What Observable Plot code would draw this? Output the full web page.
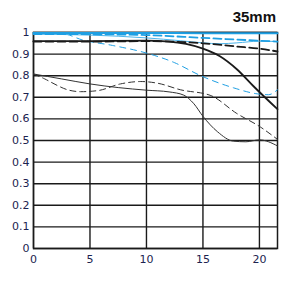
<!DOCTYPE html>
<html>
<head>
<meta charset="utf-8">
<script src="https://cdn.jsdelivr.net/npm/d3@7"></script>
<script src="https://cdn.jsdelivr.net/npm/@observablehq/plot@0.6"></script>
<style>
  body { margin: 0; background: #fff; width: 290px; height: 286px; overflow: hidden; position: relative; }
  #title { position: absolute; left: 0; top: 8px; width: 276px; text-align: right;
           font: bold 15px "Liberation Sans", Arial, sans-serif; color: #111; }
</style>
</head>
<body>
<div id="title">35mm</div>
<div id="chart"></div>
<script>
const title = "35mm";
const xTicks = [0, 5, 10, 15, 20];
const yTicks = [0, 0.1, 0.2, 0.3, 0.4, 0.5, 0.6, 0.7, 0.8, 0.9, 1];

// Black (wide open) — 10 lp/mm sagittal (thick solid)
const bk10sX = [0, 5, 10, 12, 13.5, 15, 16.5, 18, 19.5, 21.6];
const bk10sY = [0.96, 0.96, 0.962, 0.958, 0.947, 0.925, 0.89, 0.83, 0.75, 0.645];
// 10 lp/mm meridional (thick dashed)
const bk10mX = [0, 5, 10, 15, 18, 20, 21.6];
const bk10mY = [0.958, 0.958, 0.96, 0.95, 0.935, 0.925, 0.912];
// 30 lp/mm sagittal (thin solid)
const bk30sX = [0, 2.5, 5, 7.5, 10, 12, 13.3, 14.2, 15, 16.3, 17.7, 18.8, 20, 21.6];
const bk30sY = [0.808, 0.785, 0.762, 0.745, 0.733, 0.725, 0.71, 0.67, 0.612, 0.54, 0.497, 0.494, 0.503, 0.475];
// 30 lp/mm meridional (thin dashed)
const bk30mX = [0, 1, 2.1, 3, 4.2, 5.7, 7.7, 9.5, 11, 13, 15.7, 18, 20.1, 21.6];
const bk30mY = [0.808, 0.785, 0.755, 0.735, 0.726, 0.731, 0.762, 0.773, 0.765, 0.735, 0.708, 0.625, 0.562, 0.505];

// Blue (f/8)
const bl10sX = [0, 5, 10, 15, 20, 21.6];
const bl10sY = [0.998, 0.998, 0.998, 0.997, 0.997, 0.997];
const bl10mX = [0, 5, 10, 15, 20, 21.6];
const bl10mY = [0.993, 0.992, 0.988, 0.975, 0.962, 0.958];
const bl30sX = [0, 5, 10, 13, 15, 16.5, 18, 20, 21.6];
const bl30sY = [0.992, 0.988, 0.975, 0.962, 0.952, 0.948, 0.952, 0.96, 0.958];
const bl30mX = [0, 2.65, 4.3, 7, 9.7, 12.5, 14.8, 17.7, 19.8, 20.8, 21.6];
const bl30mY = [0.998, 0.994, 0.966, 0.94, 0.909, 0.86, 0.80, 0.744, 0.716, 0.712, 0.735];

const rows = (xs, ys) => xs.map((x, i) => ({x, y: ys[i]}));

const BLACK = "#1a1a1a";
const BLUE = "#1e9fe3";
const labelColor = "#1c2350";

const lineMark = (xs, ys, stroke, width, dash) =>
  Plot.line(rows(xs, ys), {x: "x", y: "y", stroke, strokeWidth: width,
    strokeDasharray: dash, curve: "monotone-x"});

const chart = Plot.plot({
  width: 290,
  height: 286,
  marginLeft: 33,
  marginRight: 13,
  marginTop: 32,
  marginBottom: 38,
  style: {fontFamily: "DejaVu Sans, sans-serif", fontSize: "11px", background: "transparent"},
  x: {domain: [0, 21.6], ticks: xTicks, tickSize: 0, tickPadding: 7, label: null, tickFormat: d => String(d)},
  y: {domain: [0, 1], ticks: yTicks, tickSize: 0, tickPadding: 4, label: null, tickFormat: d => String(d)},
  marks: [
    Plot.gridX(xTicks, {stroke: BLACK, strokeOpacity: 1, strokeWidth: 1.4}),
    Plot.gridY(yTicks, {stroke: BLACK, strokeOpacity: 1, strokeWidth: 1.4}),
    Plot.frame({stroke: BLACK, strokeWidth: 1.5}),
    lineMark(bk30mX, bk30mY, "#333", 1, "6,4"),
    lineMark(bk30sX, bk30sY, "#333", 1, null),
    lineMark(bl30mX, bl30mY, BLUE, 1, "6,5"),
    lineMark(bl30sX, bl30sY, "#4cb4ea", 1, null),
    lineMark(bk10mX, bk10mY, BLACK, 1.8, "8,4"),
    lineMark(bk10sX, bk10sY, BLACK, 1.8, null),
    lineMark(bl10mX, bl10mY, BLUE, 1.8, "8,4"),
    lineMark(bl10sX, bl10sY, BLUE, 2, null),
    Plot.axisX({ticks: xTicks, tickSize: 0, tickPadding: 7, fill: labelColor, label: null, tickFormat: d => String(d)}),
    Plot.axisY({ticks: yTicks, tickSize: 0, tickPadding: 4, fill: labelColor, label: null, tickFormat: d => String(d)})
  ]
});
document.getElementById("chart").appendChild(chart);
document.getElementById("title").textContent = title;
</script>
</body>
</html>
